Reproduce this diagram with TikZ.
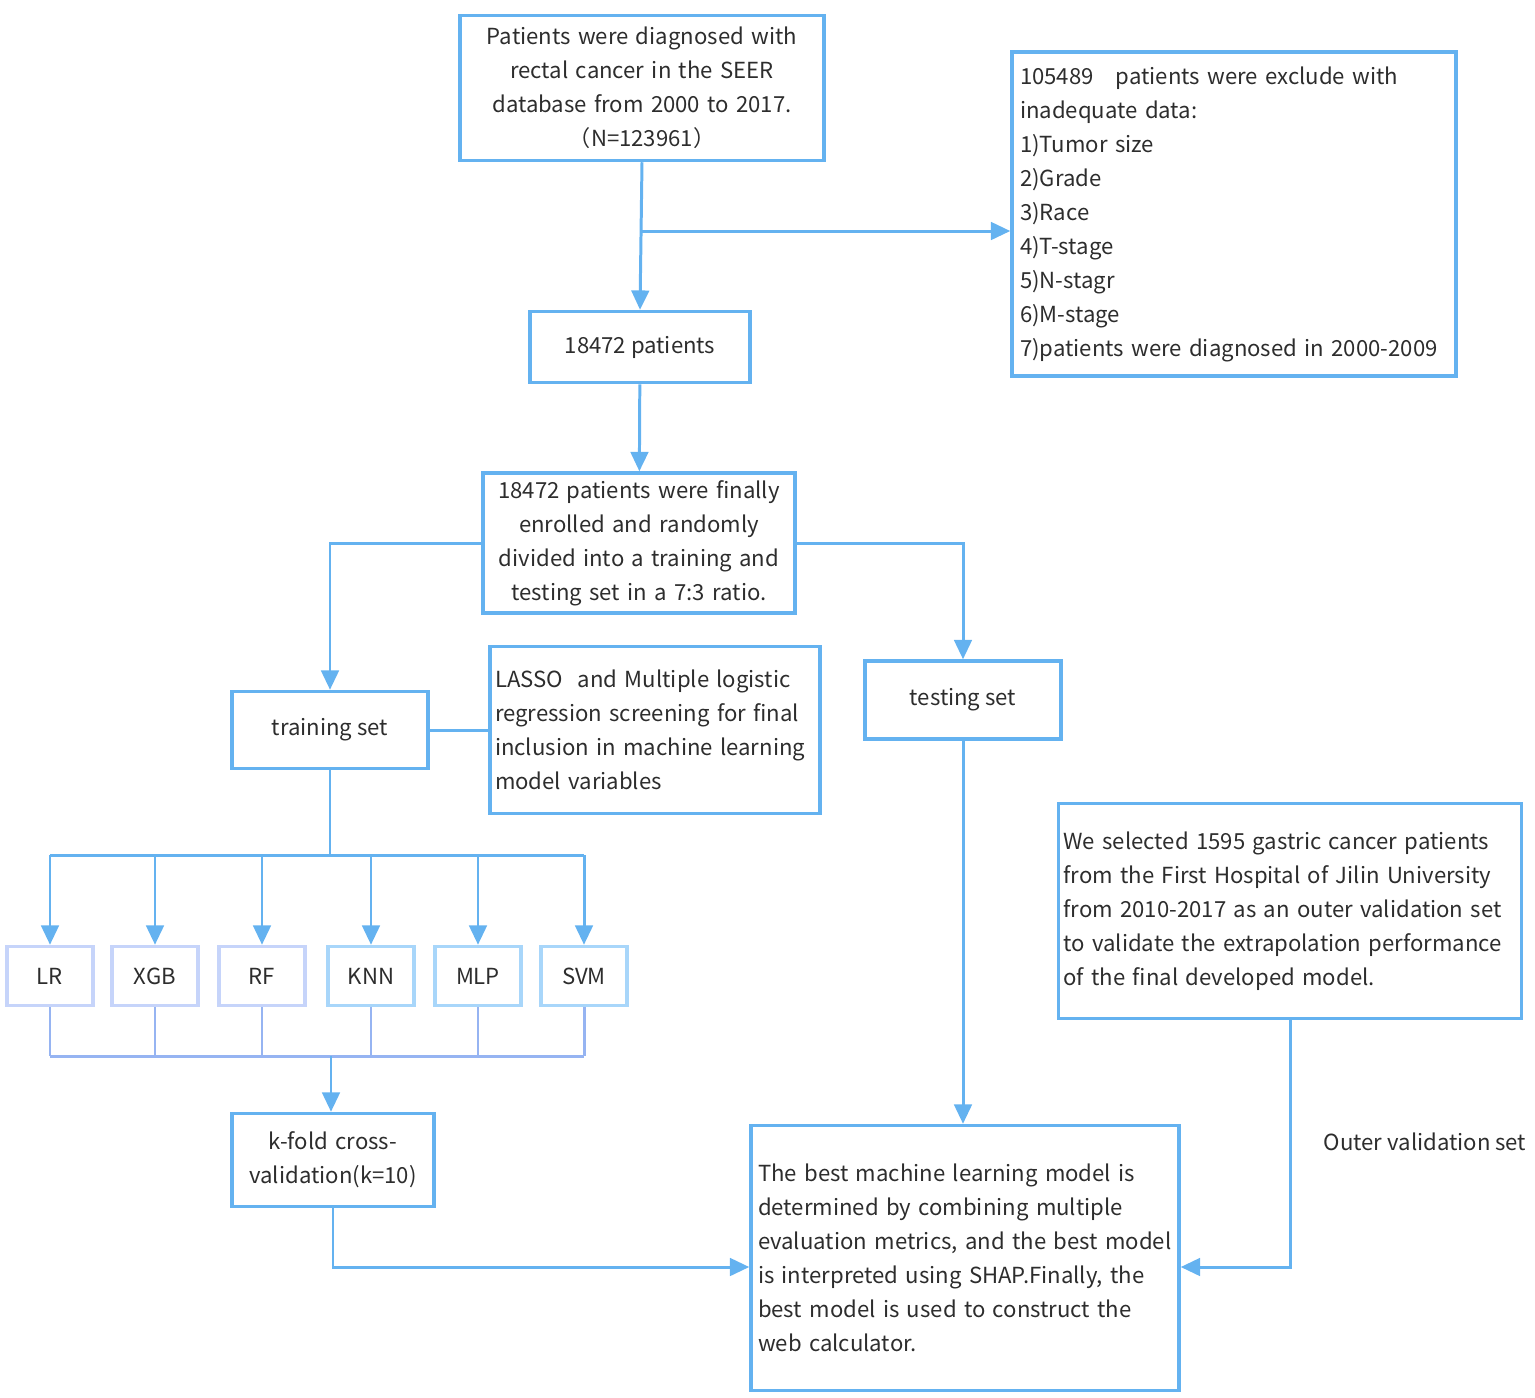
\documentclass[tikz,border=0pt]{standalone}
\usepackage{fontspec}
\setmainfont{Noto Sans CJK SC}
\usetikzlibrary{arrows.meta}
\definecolor{boxblue}{RGB}{100,178,240}
\definecolor{lavblue}{RGB}{198,212,250}
\definecolor{skyblue}{RGB}{168,214,250}
\definecolor{joinblue}{RGB}{150,180,242}
\definecolor{textgray}{RGB}{45,45,45}
\tikzset{
  box/.style={draw=boxblue,line width=2pt,text=textgray,inner sep=0pt,
    font=\fontsize{12.6}{19.35}\selectfont},
  link/.style={draw=boxblue,line width=1.7pt},
  arrow/.style={link,-{Triangle[width=10pt,length=11pt]}},
  joinline/.style={draw=joinblue,line width=1.7pt}
}
\begin{document}
\begin{tikzpicture}
  [x=0.02cm,y=-0.02cm]
  \useasboundingbox (0,0) rectangle (1535,1397);

  \node[box,minimum width=7.28cm,minimum height=2.9cm,text width=7cm,align=center] (src) at (642,88)
    {Patients were diagnosed with\\rectal cancer in the SEER\\database from 2000 to 2017.\\（N=123961）};
  \node[box,minimum width=8.88cm,minimum height=6.48cm,text width=8.56cm,align=left] (excl) at (1234,214)
    {105489\ \ \ patients were exclude with\\inadequate data:\\1)Tumor size\\2)Grade\\3)Race\\4)T-stage\\5)N-stagr\\6)M-stage\\7)patients were diagnosed in 2000-2009};
  \node[box,minimum width=4.4cm,minimum height=1.42cm] (p18472) at (640,347) {18472 patients};
  \node[box,minimum width=6.24cm,minimum height=2.8cm,text width=6cm,align=center] (enrolled) at (639,543)
    {18472 patients were finally\\enrolled and randomly\\divided into a training and\\testing set in a 7:3 ratio.};
  \node[box,minimum width=3.92cm,minimum height=1.54cm] (training) at (330,730) {training set};
  \node[box,minimum width=6.6cm,minimum height=3.34cm,text width=6.4cm,align=left] (lasso) at (655,730)
    {LASSO\ \ and Multiple logistic\\regression screening for final\\inclusion in machine learning\\model variables};
  \node[box,minimum width=3.92cm,minimum height=1.56cm] (testing) at (963,700) {testing set};
  \foreach \name/\x/\col in {LR/50/lavblue,XGB/155/lavblue,RF/262/lavblue,KNN/371/skyblue,MLP/478/skyblue,SVM/584/skyblue}
    \node[box,draw=\col,minimum width=1.72cm,minimum height=1.18cm] (\name) at (\x,976) {\name};
  \node[box,minimum width=4.04cm,minimum height=1.86cm,text width=3.8cm,align=center] (kfold) at (333,1160)
    {k-fold cross-\\validation(k=10)};
  \node[box,minimum width=8.56cm,minimum height=5.3cm,text width=8.28cm,align=left] (best) at (965,1258)
    {The best machine learning model is\\determined by combining multiple\\evaluation metrics, and the best model\\is interpreted using SHAP.Finally, the\\best model is used to construct the\\web calculator.};
  \node[box,minimum width=9.26cm,minimum height=4.3cm,text width=9.06cm,align=left] (outer) at (1290,911)
    {We selected 1595 gastric cancer patients\\from the First Hospital of Jilin University\\from 2010-2017 as an outer validation set\\to validate the extrapolation performance\\of the final developed model.};
  \node[box,draw=none] (outlbl) at (1425,1142) {Outer validation set};

  % top part
  \coordinate (split) at (641,231);
  \draw[arrow] (src.south) -- (p18472.north);
  \draw[arrow] (split) -- (split -| excl.west);
  \draw[arrow] (p18472) -- (enrolled);
  \draw[arrow] (enrolled.west) -| (training.north);
  \draw[arrow] (enrolled.east) -| (testing.north);
  \draw[link] (training) -- (lasso);

  % models
  \coordinate (fan) at (330,855);
  \coordinate (join) at (331,1056);
  \draw[link] (training.south) -- (fan);
  \draw[link] (LR.north |- fan) -- (SVM.north |- fan);
  \foreach \name in {LR,XGB,RF,KNN,MLP,SVM}{
    \draw[arrow] (\name.north |- fan) -- (\name.north);
    \draw[joinline] (\name.south) -- (\name.south |- join);
  }
  \draw[joinline] (LR.south |- join) -- (SVM.south |- join);
  \draw[arrow] (join) -- (join |- kfold.north);

  % to the best model
  \draw[arrow] (kfold.south) |- ([yshift=-0.18cm]best.west);
  \draw[arrow] (testing.south) -- (testing.south |- best.north);
  \draw[arrow] (outer.south) |- ([yshift=-0.18cm]best.east);
\end{tikzpicture}
\end{document}
